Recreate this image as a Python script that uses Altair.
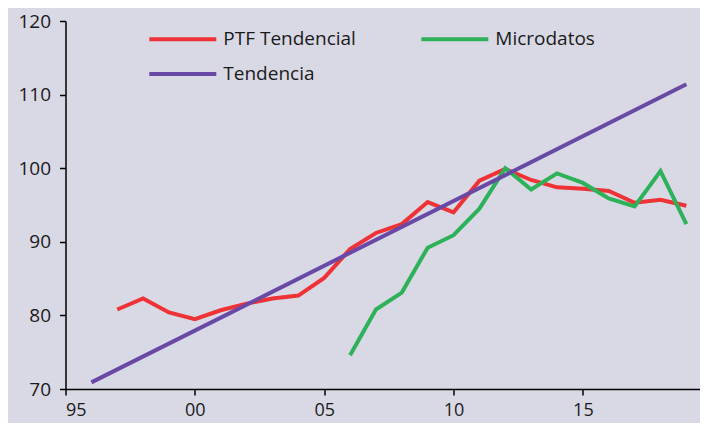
import altair as alt
import pandas as pd

# Data
ptf_years = list(range(1997, 2020))
ptf_values = [80.8, 82.3, 80.4, 79.5, 80.7, 81.6, 82.3, 82.7, 85.1, 89.0, 91.2, 92.4,
              95.4, 94.0, 98.3, 99.9, 98.4, 97.4, 97.2, 96.9, 95.3, 95.7, 94.9]

micro_years = list(range(2006, 2020))
micro_values = [74.6, 80.8, 83.1, 89.2, 90.9, 94.5, 100.0, 97.1, 99.3, 98.0, 95.9, 94.8, 99.6, 92.4]

trend_years = [1996, 2019]
trend_values = [70.9, 111.4]

series_names = ["PTF Tendencial", "Microdatos", "Tendencia"]
series_colors = ["#ef3236", "#2db25a", "#6a48a6"]

x_ticks = [1995, 2000, 2005, 2010, 2015, 2020]
y_ticks = [70, 80, 90, 100, 110, 120]

df = pd.concat([
    pd.DataFrame({"year": ptf_years, "value": ptf_values, "serie": series_names[0]}),
    pd.DataFrame({"year": micro_years, "value": micro_values, "serie": series_names[1]}),
    pd.DataFrame({"year": trend_years, "value": trend_values, "serie": series_names[2]}),
])

FONT = "Open Sans"

color = alt.Color(
    "serie:N",
    scale=alt.Scale(domain=series_names, range=series_colors),
    legend=alt.Legend(
        title=None,
        orient="none",
        direction="horizontal",
        legendX=103.8,
        legendY=4.5,
        columns=2,
        symbolType="M-3,0H3",
        symbolSize=499,
        symbolStrokeWidth=4,
        symbolFillColor="transparent",
        labelFont=FONT,
        labelFontSize=19,
        labelColor="#1a1a1a",
        labelOffset=27,
        rowPadding=11,
        columnPadding=56,
        padding=0,
    ),
)

x = alt.X(
    "year:Q",
    scale=alt.Scale(domain=[1995, 2019.527], nice=False, zero=False),
    axis=alt.Axis(values=x_ticks, format="d", labelExpr="slice(datum.label, 2)"),
    title=None,
)
y = alt.Y(
    "value:Q",
    scale=alt.Scale(domain=[70, 120], nice=False, zero=False),
    axis=alt.Axis(values=y_ticks),
    title=None,
)

base = alt.Chart(df).mark_line(strokeWidth=4).encode(x=x, y=y, color=color)

layers = [base.transform_filter(alt.datum.serie == name) for name in series_names]

chart = (
    alt.layer(*layers)
    .properties(
        width=634.5,
        height=368,
        autosize=alt.AutoSizeParams(type="none"),
        padding={"left": 57.5, "top": 13, "right": 0, "bottom": 34},
        background="#d9d9e5",
    )
    .configure_view(stroke=None, fill="#d9d9e5")
    .configure_axis(
        grid=False,
        domainColor="#000000",
        domainWidth=1.5,
        tickColor="#000000",
        tickWidth=1.5,
        tickSize=6,
        labelFont=FONT,
        labelFontSize=19,
        labelColor="#1a1a1a",
        labelPadding=9,
    )
    .configure_axisX(labelFontSize=18, labelPadding=6)
)

chart.save("out.html", embed_options={"renderer": "svg", "actions": False})
